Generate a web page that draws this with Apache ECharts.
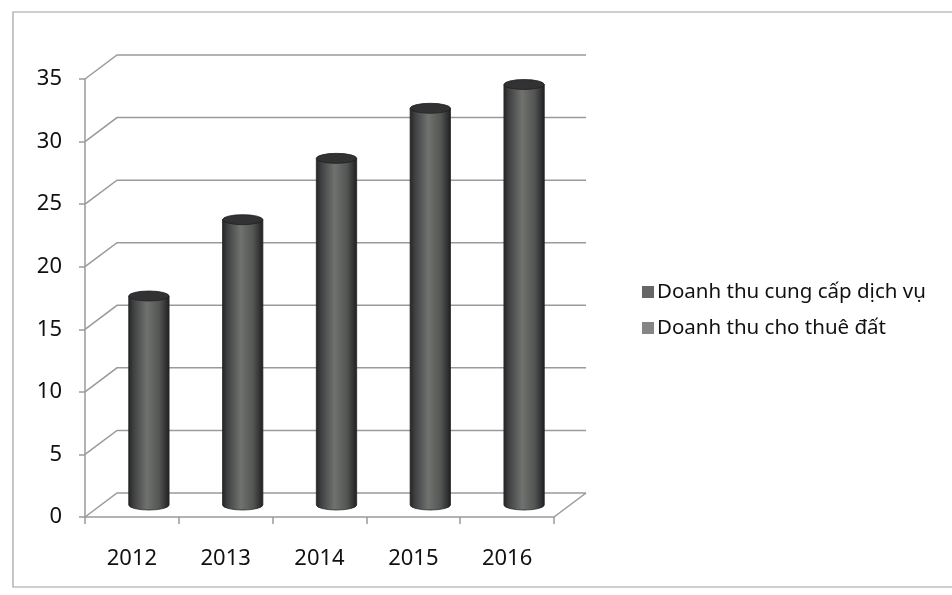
<!DOCTYPE html>
<html>
<head>
<meta charset="utf-8">
<script src="https://cdn.jsdelivr.net/npm/echarts@6/dist/echarts.min.js"></script>
<style>
html,body{margin:0;padding:0;background:#fff;}
#chart{width:952px;height:595px;}
</style>
</head>
<body>
<div id="chart"></div>
<script>
// ---- data ----
var years = ['2012', '2013', '2014', '2015', '2016'];
var serviceRevenue = [16.7, 22.8, 27.7, 31.7, 33.6];
var rentRevenue = [null, null, null, null, null];
var yTicks = [0, 5, 10, 15, 20, 25, 30, 35];
var seriesNames = ['Doanh thu cung cấp dịch vụ', 'Doanh thu cho thuê đất'];

// ---- style constants ----
var DEPTH_X = 32, DEPTH_Y = -24;
var GRID_COLOR = '#9a9a9a';
var FONT = '"Noto Sans", sans-serif';

var chart = echarts.init(document.getElementById('chart'));

function wallRender(params, api) {
  var cs = params.coordSys;
  var v = api.value(0);
  var p = api.coord([0, v]);
  var x0 = cs.x, y = p[1];
  var pts = [[x0, y], [x0 + DEPTH_X, y + DEPTH_Y], [cs.x + cs.width + DEPTH_X, y + DEPTH_Y]];
  var children = [{
    type: 'polyline',
    shape: { points: pts },
    style: { stroke: GRID_COLOR, lineWidth: 1.5, fill: null }
  }];
  if (v === 0) {
    children.push({
      type: 'line',
      shape: { x1: cs.x + cs.width, y1: y, x2: cs.x + cs.width + DEPTH_X, y2: y + DEPTH_Y },
      style: { stroke: GRID_COLOR, lineWidth: 1.5 }
    });
  }
  return { type: 'group', children: children, silent: true };
}

function cylRender(params, api) {
  var v = api.value(1);
  if (v == null || isNaN(v)) return;
  var idx = api.value(0);
  var top = api.coord([idx, v]);
  var base = api.coord([idx, 0]);
  var band = api.size([1, 0])[0];
  var w = band * 0.43;
  var cx = top[0] + DEPTH_X / 2 + 1;
  var ty = top[1] + DEPTH_Y / 2;
  var by = base[1] + DEPTH_Y / 2;
  var rx = w / 2, ry = 5;
  var l = cx - rx, r = cx + rx;
  var body = 'M' + l + ' ' + ty + ' L' + l + ' ' + by +
    ' A' + rx + ' ' + ry + ' 0 0 0 ' + r + ' ' + by +
    ' L' + r + ' ' + ty + ' Z';
  var topE = 'M' + l + ' ' + ty + ' A' + rx + ' ' + ry + ' 0 1 0 ' + r + ' ' + ty +
    ' A' + rx + ' ' + ry + ' 0 1 0 ' + l + ' ' + ty + ' Z';
  return {
    type: 'group',
    children: [{
      type: 'path',
      shape: { pathData: body },
      style: {
        fill: new echarts.graphic.LinearGradient(0, 0, 1, 0, [
          { offset: 0, color: '#232326' },
          { offset: 0.12, color: '#3f3f42' },
          { offset: 0.45, color: '#6f726e' },
          { offset: 0.75, color: '#545654' },
          { offset: 0.93, color: '#2e2e30' },
          { offset: 1, color: '#1e1e20' }
        ]),
        stroke: '#242424', lineWidth: 0.8
      }
    }, {
      type: 'path',
      shape: { pathData: topE },
      style: { fill: '#323234', stroke: '#202020', lineWidth: 0.8 }
    }]
  };
}

var option = {
  backgroundColor: '#ffffff',
  animation: false,
  grid: { left: 85, right: 398, top: 79, bottom: 78, containLabel: false },
  graphic: [{
    type: 'rect',
    shape: { x: 13, y: 12, width: 960, height: 575 },
    style: { fill: null, stroke: '#a0a0a0', lineWidth: 1.2 },
    silent: true
  }],
  legend: {
    orient: 'vertical',
    left: 637,
    top: 276,
    itemWidth: 12,
    itemHeight: 12,
    itemGap: 14,
    icon: 'rect',
    data: seriesNames,
    textStyle: { fontFamily: FONT, fontSize: 20.5, color: '#111', lineHeight: 22, padding: [0, 0, 0, -2] }
  },
  xAxis: {
    type: 'category',
    data: years,
    boundaryGap: true,
    axisLine: { show: true, lineStyle: { color: GRID_COLOR, width: 1.5 } },
    axisTick: { show: true, length: 7, lineStyle: { color: GRID_COLOR, width: 1.5 } },
    axisLabel: { fontFamily: FONT, fontSize: 22, color: '#111', margin: 31 },
    splitLine: { show: false }
  },
  yAxis: {
    type: 'value',
    min: 0, max: 35, interval: 5,
    axisLine: { show: true, lineStyle: { color: GRID_COLOR, width: 1.5 } },
    axisTick: { show: true, length: 6, lineStyle: { color: GRID_COLOR, width: 1.5 } },
    axisLabel: { fontFamily: FONT, fontSize: 22, color: '#111', margin: 23 },
    splitLine: { show: false }
  },
  series: [{
    type: 'custom',
    name: 'walls',
    renderItem: wallRender,
    data: yTicks.map(function (t) { return [t]; }),
    encode: { y: 0 },
    z: 1,
    silent: true,
    tooltip: { show: false }
  }, {
    type: 'custom',
    name: seriesNames[0],
    renderItem: cylRender,
    itemStyle: { color: '#666666' },
    data: serviceRevenue.map(function (v, i) { return [i, v]; }),
    encode: { x: 0, y: 1 },
    z: 3
  }, {
    type: 'custom',
    name: seriesNames[1],
    renderItem: cylRender,
    itemStyle: { color: '#858585' },
    data: rentRevenue.map(function (v, i) { return [i, v]; }),
    encode: { x: 0, y: 1 },
    z: 2
  }]
};
chart.setOption(option);
</script>
</body>
</html>
